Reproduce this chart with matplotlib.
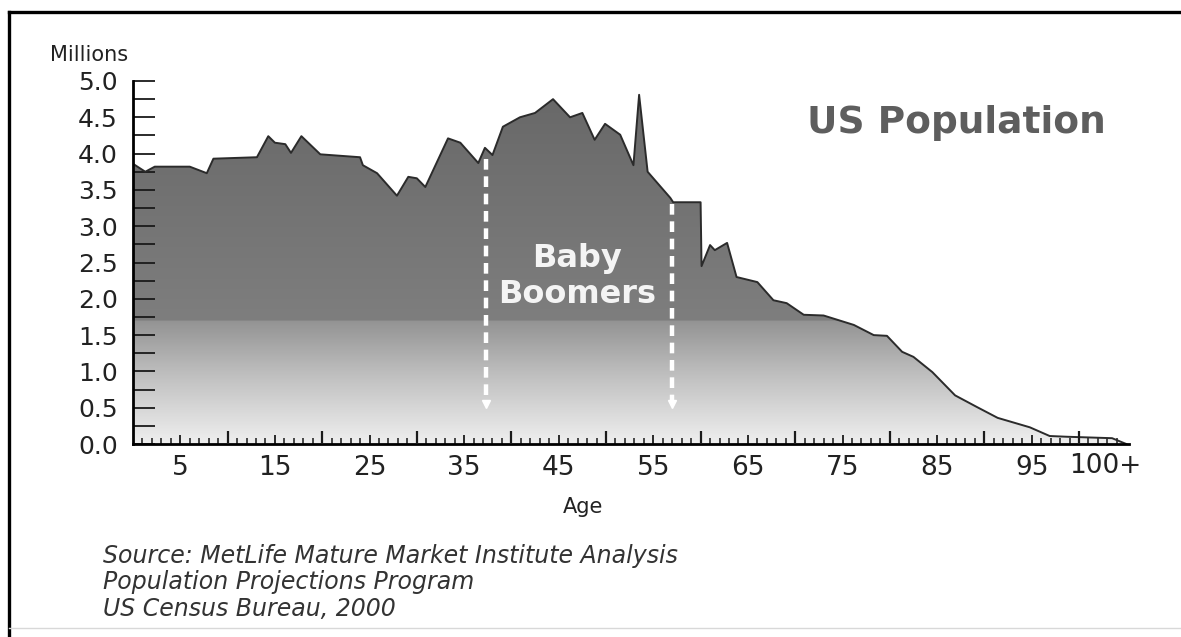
import matplotlib
matplotlib.use("Agg")
import matplotlib.pyplot as plt
import numpy as np
from matplotlib.colors import LinearSegmentedColormap
from matplotlib.lines import Line2D
from matplotlib.ticker import FixedLocator

# single-year age profile (millions)
ages = [0, 1.3, 2.3, 6, 7.8, 8.5, 13.1, 14.3, 15, 16.1, 16.7, 17.8, 19.8,
        24, 24.3, 25.8, 27.9, 29.1, 30, 30.9, 33.3, 34.6, 36.5, 37.2, 38,
        39.1, 40.9, 42.5, 44.4, 46.2, 47.5, 48.8, 49.9, 51.5, 52.9, 53.5,
        54.4, 56.8, 57.1, 60.0, 60.1, 61, 61.5, 62.8, 63.8, 66, 67.7, 69.1,
        70.9, 73, 76.2, 78.3, 79.7, 81.3, 82.5, 84.5, 86.9, 89.2, 91.4,
        94.8, 96.9, 98.7, 103.5, 105]
population = [3.86, 3.75, 3.82, 3.82, 3.73, 3.93, 3.95, 4.24, 4.15, 4.13,
              4.01, 4.24, 3.99, 3.95, 3.84, 3.73, 3.42, 3.68, 3.66, 3.54,
              4.21, 4.15, 3.87, 4.08, 3.98, 4.37, 4.50, 4.56, 4.75, 4.50,
              4.56, 4.19, 4.41, 4.26, 3.84, 4.81, 3.75, 3.39, 3.33, 3.33,
              2.45, 2.74, 2.67, 2.77, 2.30, 2.23, 1.98, 1.94, 1.78, 1.77,
              1.64, 1.50, 1.49, 1.27, 1.20, 0.99, 0.67, 0.51, 0.36, 0.23,
              0.11, 0.10, 0.08, 0.0]

boomer_ages = [37.3, 57.0]
boomer_tops = [3.92, 3.30]
boomer_bottom = 0.5

xtick_ages = list(range(5, 100, 10))
xtick_labels = [str(a) for a in xtick_ages]
ytick_vals = np.arange(0, 5.01, 0.5)

W, H = 1181, 637
fig = plt.figure(figsize=(W / 100, H / 100), dpi=100)
fig.patch.set_facecolor("white")

x0, y_base, y_top = 133, 444, 81
px_per_year = 9.46
xmax = 106.5
ax = fig.add_axes([x0 / W, (H - y_base) / H, xmax * px_per_year / W,
                   (y_base - y_top) / H])
ax.set_xlim(0, xmax)
ax.set_ylim(0, 5.0)
ax.patch.set_alpha(0)

# gradient fill clipped to the area under the curve
cmap = LinearSegmentedColormap.from_list(
    "pop", [(0.0, "#eeeeee"), (0.10, "#d6d6d6"), (0.20, "#bcbcbc"),
            (0.339, "#939393"), (0.341, "#7e7e7e"), (1.0, "#676767")])
poly = ax.fill_between(ages, population, 0, facecolor="none",
                       edgecolor="none")
grad = np.linspace(0, 1, 600).reshape(-1, 1)
img = ax.imshow(grad, extent=[0, xmax, 0, 5.0], origin="lower",
                aspect="auto", cmap=cmap, zorder=1)
img.set_clip_path(poly.get_paths()[0], transform=ax.transData)
ax.plot(ages, population, color="#2b2b2b", lw=1.4, zorder=3)

# baby boomer markers
for a, top in zip(boomer_ages, boomer_tops):
    ax.plot([a, a], [top, boomer_bottom + 0.06], color="white", lw=3.2,
            dashes=(2.4, 1.5), zorder=4)
    ax.plot([a], [boomer_bottom + 0.05], marker="v", color="white",
            markersize=6, zorder=4)
ax.text(np.mean(boomer_ages) - 0.2, 2.31, "Baby\nBoomers", color="#f4f4f4",
        fontsize=23, fontweight="bold", ha="center", va="center",
        linespacing=1.2, zorder=5)

# axes styling
for s in ["top", "right"]:
    ax.spines[s].set_visible(False)
ax.spines["left"].set_linewidth(2)
ax.spines["bottom"].set_linewidth(2)
ax.spines["bottom"].set_bounds(0, 105.3)
ax.spines["left"].set_zorder(6)
ax.spines["bottom"].set_zorder(6)

ax.set_yticks(ytick_vals)
ax.set_yticklabels([f"{v:.1f}" for v in ytick_vals])
ax.yaxis.set_minor_locator(FixedLocator(np.arange(0.25, 5, 0.5)))
ax.tick_params(axis="y", which="both", direction="in", length=16,
               width=1.3, color="#1a1a1a", pad=11, labelsize=18,
               labelcolor="#222222")

ax.set_xticks(xtick_ages)
ax.set_xticklabels(xtick_labels)
ax.xaxis.set_minor_locator(FixedLocator(np.arange(1, 105)))
ax.tick_params(axis="x", which="major", direction="in", length=6.5,
               width=1.3, color="#1a1a1a", pad=8, labelsize=19,
               labelcolor="#222222")
ax.tick_params(axis="x", which="minor", direction="in", length=4.5,
               width=1.1, color="#1a1a1a")
ax.text(102.8, -0.0606, "100+", transform=ax.get_xaxis_transform(),
        ha="center", va="center", fontsize=19, color="#222222")

sec = ax.secondary_xaxis("bottom")
sec.set_zorder(7)
sec.set_xticks(np.arange(10, 101, 10))
sec.tick_params(direction="in", length=9.5, width=1.6, color="#1a1a1a",
                labelbottom=False)
sec.spines["bottom"].set_visible(False)

ax.set_xlabel("Age", fontsize=15, color="#222222")
ax.xaxis.set_label_coords(0.4467, -0.145)

fig.text(50 / W, 1 - 55 / H, "Millions", fontsize=15, color="#222222",
         ha="left", va="center")
fig.text(956 / W, 1 - 123 / H, "US Population", fontsize=27,
         fontweight="bold", color="#5e5e5e", ha="center", va="center")
fig.text(103 / W, 1 - 544 / H,
         "Source: MetLife Mature Market Institute Analysis\n"
         "Population Projections Program\nUS Census Bureau, 2000",
         fontsize=17, style="italic", color="#333333", ha="left", va="top",
         linespacing=1.12)

# frame
fig.add_artist(Line2D([9 / W, 1], [1 - 12 / H, 1 - 12 / H], color="black",
                      lw=2.4, transform=fig.transFigure))
fig.add_artist(Line2D([9 / W, 9 / W], [0, 1 - 12 / H], color="black",
                      lw=2.4, transform=fig.transFigure))
fig.add_artist(Line2D([9 / W, 1], [1 - 628 / H, 1 - 628 / H],
                      color="#d8d8d8", lw=1.0, transform=fig.transFigure))

fig.savefig("out.png", dpi=100)
